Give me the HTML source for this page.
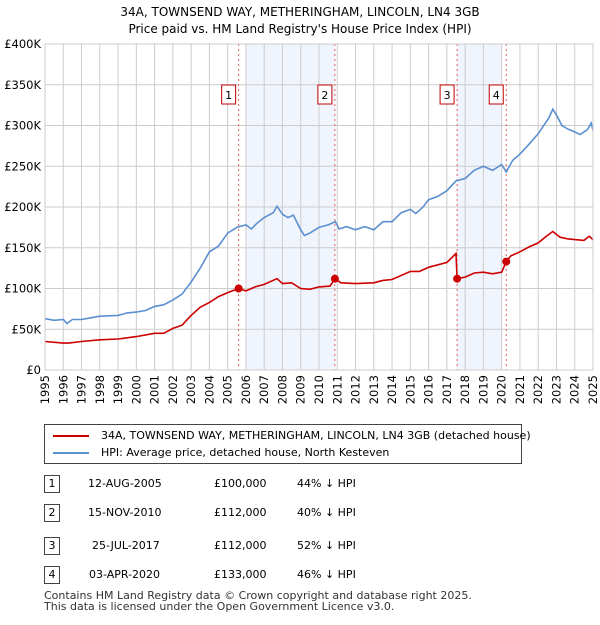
<!DOCTYPE html>
<html><head><meta charset="utf-8"><style>
body{margin:0;background:#fff;font-family:"Liberation Sans","DejaVu Sans",sans-serif;}
svg text{font-family:"DejaVu Sans","Liberation Sans",sans-serif;}
.tb span{white-space:nowrap;}
</style></head><body>
<svg width="600" height="620">
<g id="root"></g>
</svg>
<script>
const years=[1995,1996,1997,1998,1999,2000,2001,2002,2003,2004,2005,2006,2007,2008,2009,2010,2011,2012,2013,2014,2015,2016,2017,2018,2019,2020,2021,2022,2023,2024,2025];
const yTicks=[0,50,100,150,200,250,300,350,400];
const yTickLabels=["£0","£50K","£100K","£150K","£200K","£250K","£300K","£350K","£400K"];
const hpiT=[1995,1995.5,1996,1996.2,1996.5,1997,1997.5,1998,1999,1999.5,2000,2000.5,2001,2001.5,2002,2002.5,2003,2003.5,2004,2004.5,2005,2005.5,2006,2006.3,2006.6,2007,2007.5,2007.7,2008,2008.3,2008.6,2009,2009.2,2009.5,2010,2010.5,2010.9,2011.1,2011.5,2012,2012.5,2013,2013.5,2014,2014.5,2015,2015.3,2015.7,2016,2016.5,2017,2017.5,2018,2018.5,2019,2019.5,2020,2020.25,2020.6,2021,2021.5,2022,2022.6,2022.8,2023,2023.3,2023.6,2024,2024.3,2024.7,2024.9,2025];
const hpiV=[63,61,62,57,62,62,64,66,67,70,71,73,78,80,86,93,108,125,145,152,168,175,178,173,180,187,193,201,191,187,190,172,165,168,175,178,182,173,176,172,176,172,182,182,193,197,192,200,209,213,220,232,235,245,250,245,252,243,257,265,277,290,310,320,313,300,296,292,289,295,303,294];
const ppT=[1995,1996,1996.3,1997,1998,1999,2000,2001,2001.5,2002,2002.5,2003,2003.5,2004,2004.5,2005,2005.6,2006,2006.5,2007,2007.7,2008,2008.5,2009,2009.5,2010,2010.6,2010.87,2011.2,2012,2013,2013.5,2014,2015,2015.5,2016,2017,2017.5,2017.56,2018,2018.5,2019,2019.5,2020,2020.25,2020.5,2021,2021.5,2022,2022.5,2022.8,2023.2,2023.6,2024,2024.5,2024.8,2025];
const ppV=[35,33,33,35,37,38,41,45,45,51,55,67,77,83,90,95,100,97,102,105,112,106,107,100,99,102,103,112,107,106,107,110,111,121,121,126,132,143,112,114,119,120,118,120,133,140,145,151,156,165,170,163,161,160,159,164,160];
const saleT=[2005.6,2010.87,2017.56,2020.25];
const saleV=[100,112,112,133];
const saleLabels=["1","2","3","4"];
const shadeStart=[2006,2017.56];
const shadeEnd=[2010.87,2020.0];
const X0=45,X1=593,Y0=370,Y1=44;
const xs=t=>X0+(t-1995)/30*(X1-X0);
const ys=v=>Y0-v/400*(Y0-Y1);
const NS="http://www.w3.org/2000/svg";
const root=document.getElementById('root');
function mk(tag,attrs,parent){const e=document.createElementNS(NS,tag);for(const k in attrs)e.setAttribute(k,attrs[k]);(parent||root).appendChild(e);return e;}
function txt(s,attrs){const e=mk('text',attrs);e.textContent=s;return e;}
let t1=txt("34A, TOWNSEND WAY, METHERINGHAM, LINCOLN, LN4 3GB",{x:300,y:16,"text-anchor":"middle","font-size":12});


let t2=txt("Price paid vs. HM Land Registry's House Price Index (HPI)",{x:300,y:33,"text-anchor":"middle","font-size":12});


for(let i=0;i<shadeStart.length;i++){
 const r=mk('rect',{x:xs(shadeStart[i]),y:Y1,width:xs(shadeEnd[i])-xs(shadeStart[i]),height:Y0-Y1,fill:"#f0f4fd"});
 
 
}
years.forEach(y=>{const l=mk('line',{x1:xs(y),x2:xs(y),y1:Y1,y2:Y0,stroke:"#cccccc","stroke-width":1});
 
 
 const t=txt(String(y),{transform:`translate(${xs(y)+4},${Y0+5}) rotate(-90)`,"text-anchor":"end","font-size":11.5,fill:"#000"});
 
 });
yTicks.forEach((v,i)=>{const l=mk('line',{x1:X0,x2:X1,y1:ys(v),y2:ys(v),stroke:"#cccccc","stroke-width":1});
 
 
 const t=txt(yTickLabels[i],{x:X0-4,y:ys(v)+4,"text-anchor":"end","font-size":11.5});
 
 });
saleT.forEach((s,i)=>{const l=mk('line',{x1:xs(s),x2:xs(s),y1:Y1,y2:Y0,stroke:"#e06060","stroke-width":1,"stroke-dasharray":"2,3"});
 
 
 const r=mk('rect',{x:xs(s)-17,y:85,width:14,height:19,fill:"#fff",stroke:"#c00000"});
 
 
 const t=txt(saleLabels[i],{x:xs(s)-10,y:99,"text-anchor":"middle","font-size":11});
 
 });
const hp=mk('path',{d:hpiT.map((t,i)=>(i?'L':'M')+xs(t).toFixed(1)+','+ys(hpiV[i]).toFixed(1)).join(''),fill:"none",stroke:"#5b8fd0","stroke-width":1.6});


const pp=mk('path',{d:ppT.map((t,i)=>(i?'L':'M')+xs(t).toFixed(1)+','+ys(ppV[i]).toFixed(1)).join(''),fill:"none",stroke:"#cc0000","stroke-width":1.6});


saleT.forEach((s,i)=>{const c=mk('circle',{cx:xs(s),cy:ys(saleV[i]),r:4,fill:"#cc0000"});
 
 });
const ax=mk('rect',{x:X0,y:Y1,width:X1-X0,height:Y0-Y1,fill:"none",stroke:"#cccccc"});


</script>
<div style="position:absolute;left:44px;top:424px;width:476px;height:38px;border:1px solid #444;font-size:11px;font-family:'DejaVu Sans','Liberation Sans',sans-serif;">
 <div style="position:absolute;left:8px;top:4px;white-space:nowrap"><span style="display:inline-block;width:36px;border-top:2px solid #cc0000;vertical-align:middle;margin-right:12px"></span>34A, TOWNSEND WAY, METHERINGHAM, LINCOLN, LN4 3GB (detached house)</div>
 <div style="position:absolute;left:8px;top:21px;white-space:nowrap"><span style="display:inline-block;width:36px;border-top:2px solid #5b8fd0;vertical-align:middle;margin-right:12px"></span>HPI: Average price, detached house, North Kesteven</div>
</div>
<div class="tb" style="position:absolute;left:0;top:0;width:600px;font-size:11px;font-family:'DejaVu Sans','Liberation Sans',sans-serif;">
 <div><span style="position:absolute;left:44px;top:475px;width:14px;height:16px;border:1px solid #444;text-align:center;line-height:16px">1</span><span style="position:absolute;left:88px;top:477px">12-AUG-2005</span><span style="position:absolute;left:214px;top:477px">£100,000</span><span style="position:absolute;left:297px;top:477px">44% ↓ HPI</span></div>
 <div><span style="position:absolute;left:44px;top:504px;width:14px;height:16px;border:1px solid #444;text-align:center;line-height:16px">2</span><span style="position:absolute;left:88px;top:506px">15-NOV-2010</span><span style="position:absolute;left:214px;top:506px">£112,000</span><span style="position:absolute;left:297px;top:506px">40% ↓ HPI</span></div>
 <div><span style="position:absolute;left:44px;top:537px;width:14px;height:16px;border:1px solid #444;text-align:center;line-height:16px">3</span><span style="position:absolute;left:92px;top:539px">25-JUL-2017</span><span style="position:absolute;left:214px;top:539px">£112,000</span><span style="position:absolute;left:297px;top:539px">52% ↓ HPI</span></div>
 <div><span style="position:absolute;left:44px;top:566px;width:14px;height:16px;border:1px solid #444;text-align:center;line-height:16px">4</span><span style="position:absolute;left:89px;top:568px">03-APR-2020</span><span style="position:absolute;left:214px;top:568px">£133,000</span><span style="position:absolute;left:297px;top:568px">46% ↓ HPI</span></div>
</div>
<div style="position:absolute;left:44px;top:590px;font-size:11px;line-height:11px;color:#333;white-space:nowrap;font-family:'DejaVu Sans','Liberation Sans',sans-serif;">Contains HM Land Registry data © Crown copyright and database right 2025.<br>This data is licensed under the Open Government Licence v3.0.</div>
</body></html>
